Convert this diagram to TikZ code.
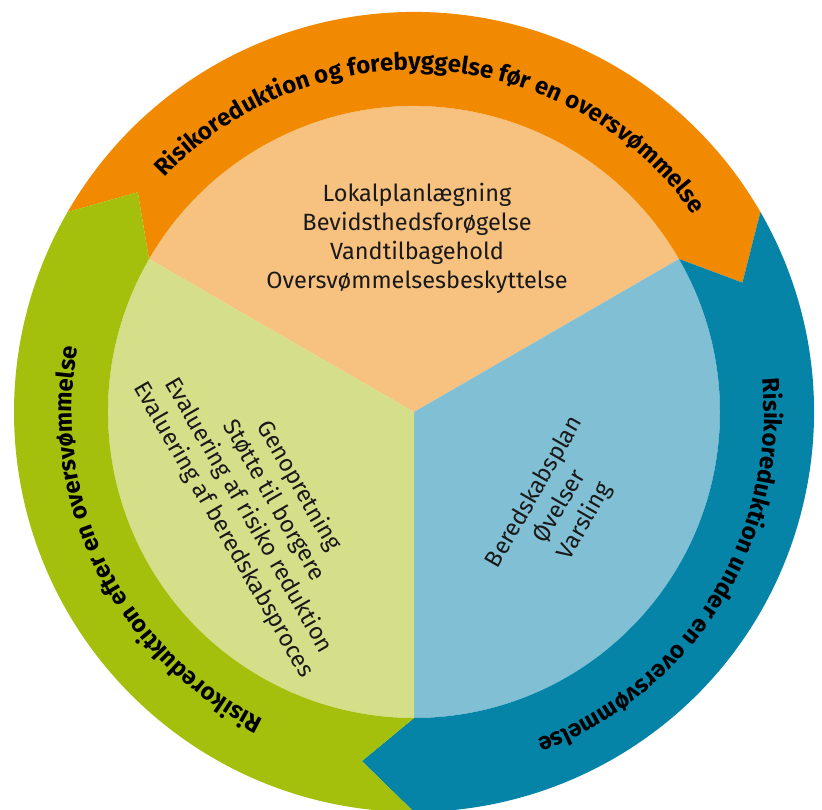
\documentclass[tikz,border=0pt]{standalone}
\usepackage{fontspec}
\setmainfont{Fira Sans}
\usetikzlibrary{decorations.text}
\definecolor{orng}{HTML}{F18A00}
\definecolor{lorng}{HTML}{F7C17F}
\definecolor{tealb}{HTML}{0584A8}
\definecolor{lblue}{HTML}{80BFD4}
\definecolor{grn}{HTML}{A4C00C}
\definecolor{lgrn}{HTML}{D5DF89}
\newcommand\ringfont{\fontsize{24}{28}\selectfont\bfseries}
\tikzset{
  innertext/.style={align=center, text=black!90, font=\fontsize{23.5}{29}\selectfont, inner sep=0pt},
}
\begin{document}
\begin{tikzpicture}[x=1pt,y=1pt]
\useasboundingbox (0,0) rectangle (822,810);
\begin{scope}[shift={(414,398)}]
  % inner sectors
  \fill[lorng] (0,0) -- (30:306) arc[start angle=30,end angle=150,radius=306] -- cycle;
  \fill[lblue] (0,0) -- (-90:306) arc[start angle=-90,end angle=30,radius=306] -- cycle;
  \fill[lgrn] (0,0) -- (150:306) arc[start angle=150,end angle=270,radius=306] -- cycle;
  % ring bands
  \fill[orng] (150:400) arc[start angle=150,end angle=30,radius=400] -- (21.5:353) -- (30:306)
     arc[start angle=30,end angle=150,radius=306] -- (141.5:353) -- cycle;
  \fill[tealb] (30:400) arc[start angle=30,end angle=-90,radius=400] -- (-98.5:353) -- (-90:306)
     arc[start angle=-90,end angle=30,radius=306] -- (21.5:353) -- cycle;
  \fill[grn] (270:400) arc[start angle=270,end angle=150,radius=400] -- (141.5:353) -- (150:306)
     arc[start angle=150,end angle=270,radius=306] -- (261.5:353) -- cycle;
  % ring texts
  \path[decorate, decoration={text along path, text align=center,
     text={|\ringfont|Risikoreduktion og forebyggelse før en oversvømmelse}}]
     (146:342) arc[start angle=146,end angle=26,radius=342];
  \path[decorate, decoration={text along path, text align=center,
     text={|\ringfont|Risikoreduktion under en oversvømmelse}}]
     (28:350) arc[start angle=28,end angle=-92,radius=350];
  \path[decorate, decoration={text along path, text align=center,
     text={|\ringfont|Risikoreduktion efter en oversvømmelse}}]
     (266.5:342) arc[start angle=266.5,end angle=146.5,radius=342];
\end{scope}
% inner texts
\node[innertext] (ttop) at (417,572) {Lokalplanlægning\\Bevidsthedsforøgelse\\Vandtilbagehold\\Oversvømmelsesbeskyttelse};
\node[innertext, rotate=-60] (tleft) at (261,302) {Genopretning\\Støtte til borgere\\Evaluering af risiko reduktion\\Evaluering af beredskabsproces};
\node[innertext, rotate=60] (tright) at (560,303) {Beredskabsplan\\Øvelser\\Varsling};
\end{tikzpicture}
\end{document}
